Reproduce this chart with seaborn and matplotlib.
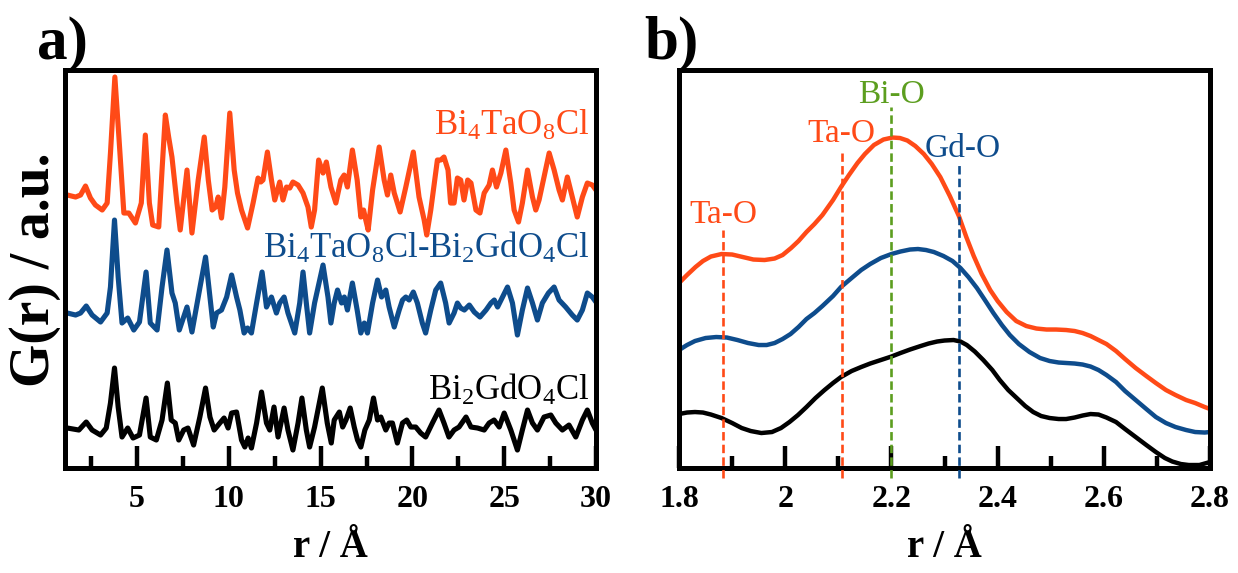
import numpy as np
import pandas as pd
import matplotlib
matplotlib.use("Agg")
import matplotlib.pyplot as plt
import seaborn as sns
from matplotlib.ticker import MultipleLocator, FuncFormatter

# ---------------- data: panel a (full PDF, offset curves) ----------------
r_tao = [1.12, 1.20, 1.65, 1.92, 2.19, 2.46, 2.73, 3.10, 3.37, 3.55, 3.79, 4.01, 4.28, 4.55, 4.91,
         5.23, 5.45, 5.67, 5.85, 6.18, 6.36, 6.54, 6.72, 6.90, 7.17, 7.35, 7.72, 7.99, 8.33, 8.66,
         8.88, 9.09, 9.28, 9.42, 9.60, 9.78, 10.05, 10.29, 10.47, 10.69, 11.02, 11.32, 11.59, 11.74,
         11.86, 12.10, 12.32, 12.50, 12.77, 12.95, 13.14, 13.32, 13.49, 13.77, 14.04, 14.31, 14.49,
         14.67, 14.89, 15.13, 15.31, 15.56, 15.83, 16.10, 16.28, 16.46, 16.73, 16.99, 17.19, 17.34,
         17.46, 17.59, 17.83, 18.19, 18.46, 18.64, 18.82, 19.01, 19.33, 19.64, 20.05, 20.36, 20.64,
         20.78, 21.00, 21.36, 21.54, 21.72, 21.94, 22.08, 22.27, 22.45, 22.63, 22.81, 23.01, 23.19,
         23.46, 23.68, 23.91, 24.18, 24.36, 24.58, 24.82, 25.09, 25.36, 25.54, 25.78, 25.99, 26.27,
         26.54, 26.72, 26.90, 27.17, 27.45, 27.72, 27.99, 28.17, 28.44, 28.71, 28.98, 29.26, 29.53,
         29.80, 30.00]
g_tao = [27.5, 27.5, 27.3, 27.5, 28.4, 27.2, 26.5, 26.0, 26.7, 31.7, 39.3, 33.3, 25.7, 25.7, 24.7,
         26.7, 33.5, 26.7, 24.5, 24.3, 30.0, 35.5, 33.3, 31.3, 26.7, 24.0, 30.0, 23.7, 29.0, 33.3,
         29.0, 26.0, 26.3, 27.3, 25.2, 28.3, 35.7, 30.0, 27.7, 26.0, 24.2, 26.7, 29.2, 28.8,
         29.0, 31.8, 29.0, 27.0, 28.8, 27.0, 28.3, 28.2, 28.8, 28.5, 27.7, 26.3, 24.3,
         26.0, 31.0, 29.7, 30.8, 28.3, 26.7, 29.0, 29.5, 28.3, 32.0, 29.0, 25.3, 26.0,
         25.0, 24.0, 28.0, 32.3, 29.0, 27.5, 29.5, 27.7, 25.8, 28.3, 31.8, 27.3, 25.0,
         23.5, 26.0, 31.0, 31.0, 31.3, 30.0, 26.7, 26.7, 29.2, 29.0, 27.0, 29.0, 28.7,
         26.0, 25.7, 27.7, 28.5, 30.0, 28.3, 29.7, 32.0, 28.7, 26.0, 24.8, 26.7, 30.0,
         27.3, 26.0, 27.0, 29.3, 31.7, 30.0, 28.0, 27.0, 29.3, 27.3, 25.3, 27.3, 28.7,
         28.5, 28.0]

r_mix = [1.12, 1.20, 1.65, 1.92, 2.23, 2.55, 3.01, 3.37, 3.55, 3.77, 3.97, 4.18, 4.49, 4.82, 5.13,
         5.49, 5.72, 6.09, 6.36, 6.63, 6.90, 7.08, 7.30, 7.72, 7.99, 8.43, 8.73, 8.97, 9.15, 9.33,
         9.60, 9.88, 10.15, 10.42, 10.60, 10.83, 11.02, 11.23, 11.51, 11.81, 12.05, 12.32, 12.59,
         12.77, 13.01, 13.22, 13.59, 13.86, 14.04, 14.22, 14.40, 14.67, 15.13, 15.40, 15.56, 15.74,
         15.92, 16.14, 16.29, 16.46, 16.73, 16.99, 17.19, 17.38, 17.55, 17.83, 18.10, 18.32, 18.55,
         18.73, 19.01, 19.28, 19.46, 19.64, 19.82, 20.05, 20.27, 20.54, 20.72, 21.00, 21.27, 21.54,
         21.81, 22.00, 22.27, 22.45, 22.63, 22.83, 23.10, 23.37, 23.68, 24.01, 24.28, 24.46, 24.64,
         24.91, 25.18, 25.45, 25.72, 25.99, 26.27, 26.54, 26.81, 27.08, 27.41, 27.72, 27.99, 28.35,
         28.71, 28.98, 29.26, 29.53, 29.80, 30.00]
g_mix = [15.7, 15.7, 15.5, 15.7, 16.4, 15.5, 14.8, 15.7, 18.3, 25.0, 19.3, 14.7, 15.2, 14.0, 14.8,
         19.8, 14.7, 14.0, 18.3, 22.0, 17.7, 16.7, 14.0, 16.3, 13.8, 18.3, 21.3, 17.3, 14.3, 15.7,
         16.0, 17.3, 19.5, 17.3, 16.0, 13.7, 14.2, 13.7, 16.7, 19.8, 16.3, 17.3, 15.7,
         16.7, 17.3, 15.7, 13.7, 16.7, 19.8, 16.7, 13.7, 16.7, 20.5, 17.3, 14.7, 16.7,
         18.0, 16.7, 17.3, 16.0, 18.7, 16.0, 13.7, 14.7, 13.7, 16.7, 19.0, 17.3, 18.0,
         16.3, 14.3, 16.0, 17.0, 17.3, 17.0, 17.8, 16.7, 14.7, 13.7, 16.0, 18.0, 18.7,
         16.7, 14.7, 15.7, 16.7, 16.2, 16.0, 16.5, 15.8, 15.3, 16.0, 16.7, 17.0, 16.3,
         17.3, 18.3, 16.7, 13.5, 16.0, 18.2, 16.7, 15.0, 16.7, 17.7, 18.3, 17.0, 16.3,
         15.5, 15.0, 16.0, 17.7, 17.3, 16.8]

r_gdo = [1.12, 1.20, 1.83, 2.23, 2.55, 3.01, 3.32, 3.55, 3.77, 3.97, 4.18, 4.49, 4.78, 5.13, 5.49,
         5.72, 6.05, 6.36, 6.65, 6.86, 7.08, 7.27, 7.54, 7.77, 8.08, 8.42, 8.73, 8.97, 9.20, 9.51,
         9.74, 9.96, 10.15, 10.42, 10.69, 10.87, 11.05, 11.23, 11.51, 11.78, 12.05, 12.23, 12.46,
         12.68, 13.01, 13.22, 13.49, 13.77, 13.98, 14.22, 14.40, 14.67, 15.09, 15.36, 15.58, 15.74,
         16.02, 16.20, 16.38, 16.61, 16.83, 17.01, 17.19, 17.41, 17.65, 17.88, 18.10, 18.28, 18.55,
         18.73, 18.91, 19.18, 19.46, 19.69, 19.91, 20.18, 20.45, 20.72, 21.09, 21.45, 21.72, 21.99,
         22.27, 22.54, 22.92, 23.19, 23.55, 23.91, 24.18, 24.45, 24.73, 25.00, 25.36, 25.72, 25.99,
         26.27, 26.54, 26.81, 27.17, 27.54, 27.81, 28.17, 28.53, 28.90, 29.26, 29.53, 29.80, 30.00]
g_gdo = [4.2, 4.2, 4.0, 4.8, 4.0, 3.5, 4.2, 6.7, 10.2, 6.3, 3.3, 4.2, 3.2, 3.5, 7.2,
         3.3, 3.0, 5.0, 8.7, 5.0, 4.7, 3.0, 4.0, 4.2, 2.5, 5.3, 8.2, 5.3, 4.0, 4.7,
         5.2, 4.2, 5.7, 5.8, 3.0, 2.3, 3.2, 2.2, 4.7, 7.8, 4.7, 4.0, 6.3,
         3.3, 6.2, 4.0, 2.0, 4.7, 7.2, 4.0, 2.3, 4.3, 8.2, 4.7, 2.7, 5.0,
         5.8, 4.3, 5.0, 6.2, 4.3, 3.0, 2.3, 4.0, 5.0, 7.2, 5.0, 5.3, 4.0,
         4.7, 4.7, 2.7, 4.7, 5.0, 4.3, 4.3, 3.7, 3.3, 4.7, 6.0, 4.7, 3.3,
         4.0, 4.3, 5.3, 4.3, 4.2, 4.0, 4.7, 5.0, 4.3, 5.7, 4.0, 2.0, 4.0,
         6.0, 4.7, 4.0, 5.3, 5.5, 4.7, 4.0, 4.5, 3.3, 5.0, 6.0, 4.7, 4.0]

labels_a = ["Bi$_4$TaO$_8$Cl", "Bi$_4$TaO$_8$Cl-Bi$_2$GdO$_4$Cl", "Bi$_2$GdO$_4$Cl"]
label_a_y = [33.5, 21.2, 7.0]

# ---------------- data: panel b (first shell) ----------------
rb_tao = [1.800, 1.815, 1.831, 1.845, 1.860, 1.880, 1.900, 1.920, 1.940, 1.961, 1.980, 1.995, 2.011,
          2.025, 2.040, 2.055, 2.070, 2.090, 2.105, 2.120, 2.136, 2.150, 2.167, 2.185, 2.202, 2.216,
          2.230, 2.245, 2.261, 2.276, 2.292, 2.310, 2.327, 2.341, 2.355, 2.370, 2.386, 2.400, 2.417,
          2.435, 2.454, 2.473, 2.492, 2.510, 2.529, 2.545, 2.560, 2.575, 2.590, 2.605, 2.623, 2.640,
          2.660, 2.680, 2.698, 2.717, 2.735, 2.755, 2.772, 2.790, 2.800]
gb_tao = [18.7, 19.5, 20.3, 20.9, 21.35, 21.6, 21.55, 21.3, 21.05, 21.0, 21.15, 21.5, 22.2,
          22.9, 23.8, 24.6, 25.5, 27.0, 28.3, 29.5, 30.7, 31.6, 32.5, 33.05, 33.25, 33.2,
          32.95, 32.4, 31.6, 30.6, 29.3, 27.4, 25.4, 23.3, 21.4, 19.6, 18.0, 16.9, 15.8,
          14.9, 14.4, 14.15, 14.05, 14.05, 14.0, 13.9, 13.7, 13.4, 13.0, 12.6, 11.9, 11.1,
          10.2, 9.4, 8.7, 8.0, 7.5, 7.0, 6.7, 6.3, 6.1]

rb_mix = [1.800, 1.815, 1.830, 1.850, 1.870, 1.890, 1.910, 1.930, 1.950, 1.965, 1.980, 1.995, 2.010,
          2.025, 2.040, 2.055, 2.070, 2.090, 2.105, 2.125, 2.143, 2.160, 2.180, 2.200, 2.217, 2.235,
          2.250, 2.265, 2.280, 2.298, 2.315, 2.330, 2.345, 2.361, 2.376, 2.392, 2.408, 2.423, 2.440,
          2.460, 2.480, 2.498, 2.515, 2.530, 2.545, 2.560, 2.575, 2.590, 2.605, 2.623, 2.640, 2.660,
          2.680, 2.698, 2.717, 2.735, 2.755, 2.772, 2.790, 2.800]
gb_mix = [12.0, 12.5, 12.9, 13.2, 13.3, 13.25, 13.0, 12.7, 12.5, 12.5, 12.7, 13.1, 13.6,
          14.3, 15.1, 15.7, 16.4, 17.4, 18.3, 19.2, 20.0, 20.6, 21.2, 21.6, 21.85, 22.05,
          22.1, 22.0, 21.8, 21.4, 20.9, 20.2, 19.3, 18.2, 17.0, 15.7, 14.5, 13.5, 12.6,
          11.8, 11.2, 10.9, 10.75, 10.7, 10.65, 10.55, 10.35, 10.0, 9.5, 8.8, 7.9, 7.0,
          6.1, 5.3, 4.7, 4.3, 4.0, 3.8, 3.75, 3.8]

rb_gdo = [1.800, 1.815, 1.830, 1.845, 1.860, 1.880, 1.900, 1.918, 1.935, 1.955, 1.975, 1.992, 2.008,
          2.024, 2.040, 2.057, 2.074, 2.090, 2.105, 2.125, 2.143, 2.160, 2.180, 2.200, 2.217, 2.235,
          2.255, 2.270, 2.286, 2.300, 2.317, 2.330, 2.342, 2.357, 2.373, 2.390, 2.404, 2.420, 2.436,
          2.452, 2.467, 2.482, 2.498, 2.515, 2.529, 2.545, 2.560, 2.575, 2.590, 2.605, 2.623, 2.640,
          2.660, 2.680, 2.698, 2.715, 2.729, 2.745, 2.760, 2.780, 2.800]
gb_gdo = [5.6, 5.75, 5.8, 5.75, 5.55, 5.2, 4.7, 4.2, 3.9, 3.7, 3.8, 4.2, 4.8,
          5.5, 6.3, 7.2, 8.0, 8.7, 9.3, 9.9, 10.3, 10.65, 11.0, 11.35, 11.7, 12.05,
          12.4, 12.65, 12.85, 12.95, 13.0, 12.85, 12.5, 11.85, 11.0, 10.0, 9.0, 8.0, 7.2,
          6.4, 5.8, 5.4, 5.2, 5.1, 5.1, 5.25, 5.45, 5.6, 5.55, 5.25, 4.8, 4.1,
          3.3, 2.5, 1.8, 1.2, 0.85, 0.6, 0.5, 0.5, 0.8]

bond_r = [1.882, 2.107, 2.200, 2.327]
bond_top = [24.0, 31.7, 36.3, 30.7]
bond_text = ["Ta-O", "Ta-O", "Bi-O", "Gd-O"]
bond_text_x = [1.883, 2.106, 2.200, 2.335]
bond_text_y = [24.7, 32.8, 36.7, 31.3]

xticks_a = [5, 10, 15, 20, 25, 30]
xticks_b = [1.8, 2.0, 2.2, 2.4, 2.6, 2.8]

# ---------------- style ----------------
ORANGE = "#FF4A17"
BLUE = "#0E4C8C"
BLACK = "#000000"
GREEN = "#5C9E1F"
bond_color = [ORANGE, ORANGE, GREEN, BLUE]

sns.set_theme(style="white")
plt.rcParams["font.family"] = ["Liberation Serif", "DejaVu Serif"]
plt.rcParams["mathtext.default"] = "regular"
plt.rcParams["axes.linewidth"] = 3.6
plt.rcParams["text.color"] = "black"
plt.rcParams["axes.labelcolor"] = "black"
plt.rcParams["xtick.color"] = "black"
plt.rcParams["xtick.labelcolor"] = "black"
plt.rcParams["axes.edgecolor"] = "black"

fig = plt.figure(figsize=(12.38, 5.73), dpi=100)
ax_a = fig.add_axes([0.0529, 0.1832, 0.4285, 0.6946])
ax_b = fig.add_axes([0.5485, 0.1832, 0.4289, 0.6946])

colors = [ORANGE, BLUE, BLACK]

for r, g, c in zip([r_tao, r_mix, r_gdo], [g_tao, g_mix, g_gdo], colors):
    df = pd.DataFrame({"r": r, "G": g})
    sns.lineplot(data=df, x="r", y="G", ax=ax_a, color=c, lw=3.7, estimator=None, sort=False,
                 solid_joinstyle="round", solid_capstyle="round")

for lab, y, c in zip(labels_a, label_a_y, colors):
    ax_a.text(29.65, y, lab, color=c, ha="right", va="baseline", fontsize=25)

for r, g, c in zip([rb_tao, rb_mix, rb_gdo], [gb_tao, gb_mix, gb_gdo], colors):
    df = pd.DataFrame({"r": r, "G": g})
    sns.lineplot(data=df, x="r", y="G", ax=ax_b, color=c, lw=3.2, estimator=None, sort=False,
                 solid_joinstyle="round", solid_capstyle="round")

for x, top, c in zip(bond_r, bond_top, bond_color):
    ax_b.vlines(x, -0.8, top, colors=c, lw=1.9, linestyles=(0, (3.2, 1.6)), clip_on=False, zorder=5)
for x, y, t, c in zip(bond_text_x, bond_text_y, bond_text, bond_color):
    ax_b.text(x, y, t, color=c, ha="center", va="baseline", fontsize=24)

for ax in (ax_a, ax_b):
    ax.set_ylim(0.2, 40.0)
    ax.set_yticks([])
    for s in ax.spines.values():
        s.set_visible(True)
        s.set_color("black")
        s.set_linewidth(3.6)
    ax.tick_params(axis="x", which="major", direction="in", length=15.5, width=3.2,
                   pad=12, labelsize=23, bottom=True, top=False, color="black", labelcolor="black")
    ax.tick_params(axis="x", which="minor", direction="in", length=8.5, width=3.2,
                   bottom=True, top=False, color="black")
    ax.set_xlabel("r / Å", fontsize=28, fontweight="bold", labelpad=11, color="black")
    ax.set_ylabel("")

ax_a.set_xlim(1.1, 30.0)
ax_a.set_xticks(xticks_a)
ax_a.xaxis.set_minor_locator(MultipleLocator(2.5))
ax_b.set_xlim(1.8, 2.8)
ax_b.set_xticks(xticks_b)
ax_b.xaxis.set_minor_locator(MultipleLocator(0.1))
ax_b.xaxis.set_major_formatter(FuncFormatter(lambda v, p: f"{v:g}"))

for ax in (ax_a, ax_b):
    for lbl in ax.get_xticklabels():
        lbl.set_fontweight("bold")
        lbl.set_fontsize(23)
        lbl.set_color("black")

fig.text(0.028, 0.530, "G(r) / a.u.", fontsize=40, fontweight="bold", rotation=90,
         ha="center", va="center", color="black")

fig.text(0.030, 0.897, "a)", fontsize=44, fontweight="bold", ha="left", va="baseline", color="black")
fig.text(0.520, 0.897, "b)", fontsize=44, fontweight="bold", ha="left", va="baseline", color="black")

fig.savefig("out.png", dpi=100)
